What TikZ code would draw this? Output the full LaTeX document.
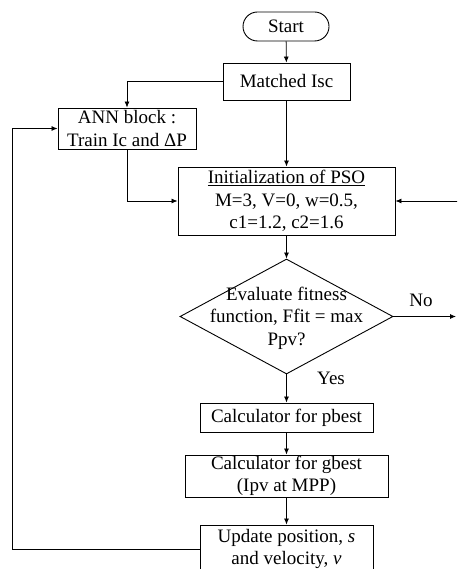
\documentclass[tikz,border=0pt]{standalone}
\usepackage{fontspec}
\setmainfont{Liberation Serif}
\usetikzlibrary{shapes.geometric,arrows.meta}
\begin{document}
\begin{tikzpicture}[x=1pt,y=-1pt,
  every node/.style={font=\fontsize{19}{22.5}\selectfont, inner sep=0pt},
  box/.style={draw, line width=0.9pt, align=center},
  arr/.style={line width=0.8pt, -{Latex[length=6pt,width=5pt]}},
  plain/.style={line width=0.8pt}]
\clip (0,0) rectangle (457,569);
\fill[white] (0,0) rectangle (457,569);
\node[box, rounded corners=14.5pt, minimum width=86pt, minimum height=29pt] (start) at (286,26.5) {Start};
\node[box, minimum width=127pt, minimum height=37pt] (matched) at (286.5,81.5) {Matched Isc};
\node[box, minimum width=138pt, minimum height=41pt] (ann) at (127,128.5) {ANN block :\\Train Ic and ΔP};
\node[box, minimum width=217pt, minimum height=68pt] (pso) at (286.5,201) {\underline{Initialization of PSO}\\M=3, V=0, w=0.5,\\c1=1.2, c2=1.6};
\node[draw, line width=0.9pt, diamond, minimum width=213pt, minimum height=115pt] (dia) at (286.5,316.5) {};
\node[align=center] (diatext) at (286.5,318) {Evaluate fitness\\function, Ffit = max\\Ppv?};
\node[box, minimum width=173pt, minimum height=29pt] (pbest) at (286.5,417.5) {Calculator for pbest};
\node[box, minimum width=203pt, minimum height=42pt] (gbest) at (286.5,476) {Calculator for gbest\\(Ipv at MPP)};
\node[box, minimum width=173pt, minimum height=48pt] (update) at (286.5,549) {Update position, \textit{s}\\and velocity, \textit{v}};
\node (no) at (421,300) {No};
\node (yes) at (331,378) {Yes};
\coordinate (fbl) at (12,128.5);
\coordinate (rin) at (458,201);
\coordinate (rout) at (456,316.5);
\draw[arr] (start) -- (matched);
\draw[arr] (matched.west) -| (ann.north);
\draw[arr] (matched) -- (pso);
\draw[arr] (ann.south) |- (pso.west);
\draw[arr] (rin) -- (pso.east);
\draw[arr] (pso) -- (dia.north);
\draw[arr] (dia.east) -- (rout);
\draw[arr] (dia.south) -- (pbest);
\draw[arr] (pbest) -- (gbest);
\draw[arr] (gbest) -- (update);
\draw[arr] (update.west) -| (fbl) -- (ann.west);
\end{tikzpicture}
\end{document}
